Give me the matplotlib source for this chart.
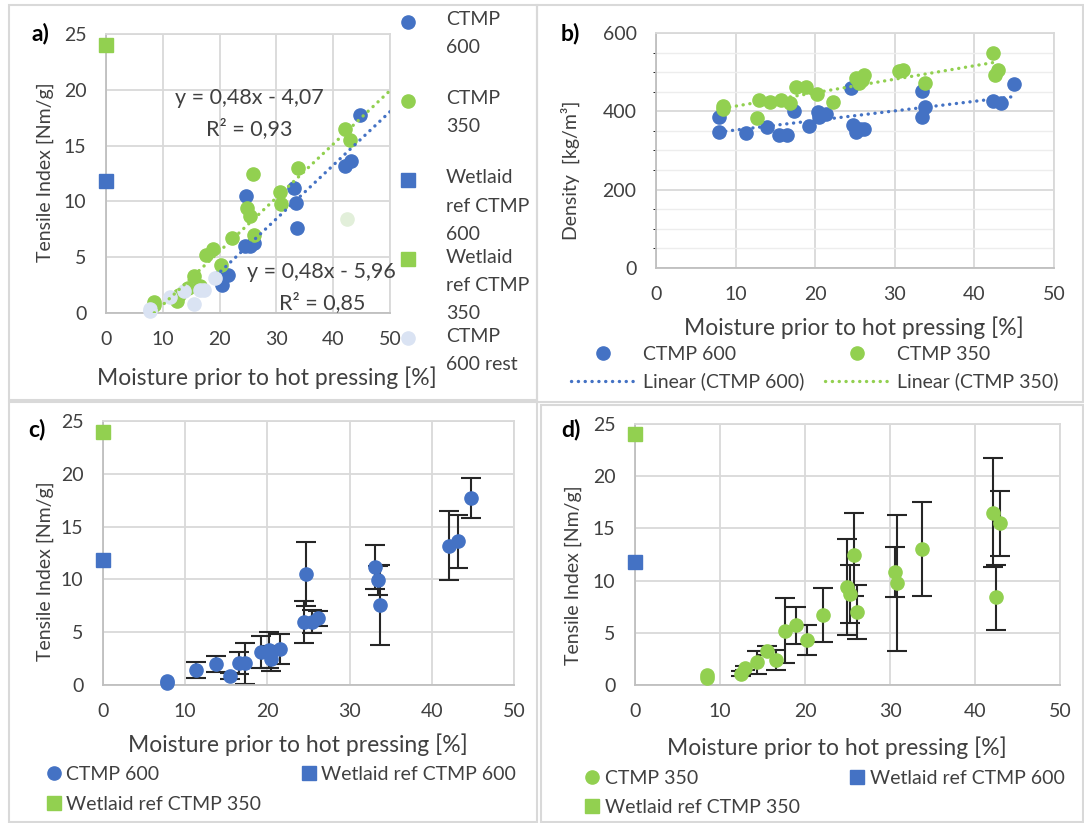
import numpy as np
import matplotlib
matplotlib.use("Agg")
import matplotlib.pyplot as plt
from matplotlib.patches import Rectangle
from matplotlib.ticker import MultipleLocator
from matplotlib.legend_handler import HandlerLine2D

plt.rcParams['font.family'] = ['Lato', 'DejaVu Sans']
FS_TICK = 14
FS_LEG = 14
FS_XLAB = 16.5
FS_YLAB = 14
FS_EQ = 15.5

BLUE = '#4472C4'
GREEN = '#92D050'
LIGHT_BLUE = '#DAE3F3'
FAINT_GREEN = '#E2EFDA'
GRID = '#D9D9D9'
TXT = '#404040'
ERR = '#262626'

# tensile index, CTMP 600 (panels a and c)
x600 = [7.8, 7.8, 11.3, 13.8, 15.5, 16.6, 17.3, 19.2, 20.2, 20.4, 21.5,
        24.5, 24.7, 25.4, 26.1, 33.1, 33.4, 33.7, 42.1, 43.2, 44.8]
y600 = [0.4, 0.2, 1.45, 2.0, 0.85, 2.05, 2.05, 3.1, 3.35, 2.5, 3.4,
        6.0, 10.5, 6.0, 6.3, 11.2, 9.9, 7.6, 13.2, 13.6, 17.7]
err600 = [0.0, 0.0, 0.75, 0.75, 0.3, 1.05, 1.95, 1.5, 1.7, 1.2, 1.4,
          2.0, 3.0, 1.1, 0.7, 2.1, 1.4, 3.8, 3.25, 2.5, 1.9]
n_rest600 = 8   # first points = "CTMP 600 rest" in a)

# tensile index, CTMP 350 (panels a and d)
x350 = [8.5, 8.5, 12.5, 12.9, 14.4, 15.5, 16.6, 17.6, 18.9, 20.2, 22.1,
        24.9, 25.3, 25.8, 26.1, 30.6, 30.8, 33.8, 42.1, 42.5, 42.9]
y350 = [0.7, 1.0, 1.1, 1.6, 2.2, 3.3, 2.4, 5.2, 5.7, 4.3, 6.7,
        9.4, 8.7, 12.5, 7.0, 10.8, 9.8, 13.0, 16.5, 8.4, 15.5]
err350 = [0.0, 0.0, 0.2, 0.2, 1.1, 0.4, 1.0, 3.1, 1.75, 1.45, 2.6,
          4.6, 2.8, 4.0, 2.55, 2.4, 6.5, 4.5, 5.2, 3.1, 3.1]
faded350 = 19   # point left out of the trend in a)

# wetlaid references at 0 % moisture
ref600 = 11.8
ref350 = 24.0

# trend lines printed in a): slope, intercept, R2
fit350 = (0.48, -4.07, 0.93)
fit600 = (0.48, -5.96, 0.85)

# density (panel b)
xd600 = [7.9, 7.9, 11.3, 13.9, 15.4, 16.4, 17.3, 19.2, 20.3, 20.5, 21.4,
         24.5, 24.8, 25.1, 25.6, 26.1, 33.4, 33.4, 33.8, 42.3, 43.4, 45.0]
d600 = [385, 348, 344, 361, 339, 339, 401, 363, 399, 386, 392,
        460, 365, 348, 356, 356, 453, 385, 410, 426, 420, 469]
xd350 = [8.4, 8.4, 12.7, 13.0, 14.3, 15.7, 16.8, 17.6, 18.8, 20.2, 22.2,
         25.1, 25.5, 25.9, 26.1, 30.5, 31.0, 33.8, 42.3, 42.6, 43.0]
d350 = [414, 405, 382, 429, 425, 429, 420, 461, 461, 444, 425,
        484, 472, 480, 493, 503, 506, 473, 550, 493, 506]

W, H = 1084, 823
fig = plt.figure(figsize=(W / 100, H / 100), dpi=100)


def box(l, t, r, b):
    return [l / W, 1 - b / H, (r - l) / W, (b - t) / H]


def fx(px):
    return px / W


def fy(py):
    return 1 - py / H


def style(ax, ymax, ystep):
    ax.set_xlim(0, 50)
    ax.set_ylim(0, ymax)
    ax.xaxis.set_major_locator(MultipleLocator(10))
    ax.yaxis.set_major_locator(MultipleLocator(ystep))
    ax.grid(True, color=GRID, lw=1.3)
    ax.set_axisbelow(True)
    ax.tick_params(length=0, labelsize=FS_TICK, colors=TXT)
    ax.tick_params(axis='x', pad=13)
    ax.tick_params(axis='y', pad=14)
    for s in ax.spines.values():
        s.set_color(GRID)
        s.set_linewidth(1.3)
    ax.spines['left'].set_color('#BFBFBF')
    ax.spines['bottom'].set_color('#BFBFBF')


def labels(ax, ylab, xy_x, xy_y):
    ax.set_xlabel('Moisture prior to hot pressing [%]', fontsize=FS_XLAB, color=TXT, va='center')
    ax.set_ylabel(ylab, fontsize=FS_YLAB, color=TXT, va='center')
    ax.xaxis.set_label_coords(*xy_x)
    ax.yaxis.set_label_coords(*xy_y)


def errbars(ax, xs, ys, es):
    # points without a spread get no bar
    xs, ys, es = map(np.asarray, (xs, ys, es))
    m = es > 0
    ax.errorbar(xs[m], ys[m], yerr=es[m], fmt='none', ecolor=ERR, elinewidth=1.5,
                capsize=7, capthick=1.5, zorder=2)


def legend(handles, names, left, y, loc='center left', linespacing=None, **kw):
    leg = fig.legend(handles, names, loc=loc, bbox_to_anchor=(fx(left), fy(y)),
                     frameon=False, fontsize=FS_LEG, labelcolor=TXT, borderaxespad=0,
                     borderpad=0, **kw)
    if linespacing:
        for t in leg.get_texts():
            t.set_linespacing(linespacing)
    return leg


class TopKey(HandlerLine2D):
    # legend key lifted to the first line of a multi-line label (Excel style)
    def __init__(self, shift, **kw):
        super().__init__(**kw)
        self.shift = shift

    def create_artists(self, *args, **kw):
        arts = super().create_artists(*args, **kw)
        for a in arts:
            a.set_ydata(np.asarray(a.get_ydata(), float) + self.shift)
        return arts


dot = dict(marker='o', ms=9.5, ls='none', clip_on=False, zorder=3)
sq = dict(marker='s', ms=10, ls='none', clip_on=False, zorder=3)
trend = dict(ls=(0, (0.05, 2.0)), lw=2.4, dash_capstyle='round', zorder=4)

# ---------- a)
ax = fig.add_axes(box(106, 34, 390, 313))
style(ax, 25, 5)
xa6 = np.array(x600[n_rest600:])
ya6 = np.array(y600[n_rest600:])
keep = [i for i in range(len(x350)) if i != faded350]
xa3 = np.array(x350)[keep]
ya3 = np.array(y350)[keep]
h1, = ax.plot(xa6, ya6, color=BLUE, **dot)
h2, = ax.plot(xa3, ya3, color=GREEN, **dot)
h3, = ax.plot([0], [ref600], color=BLUE, **sq)
h4, = ax.plot([0], [ref350], color=GREEN, **sq)
h5, = ax.plot(x600[:n_rest600], y600[:n_rest600], color=LIGHT_BLUE, **dot)
ax.plot([x350[faded350]], [y350[faded350]], color=FAINT_GREEN, **dot)
for xs, f, c in [(xa3, fit350, GREEN), (xa6, fit600, BLUE)]:
    xx = np.array([xs.min(), 50])
    ax.plot(xx, f[0] * xx + f[1], color=c, **trend)
for xpos, ypos, f in [(25.3, 17.9, fit350), (38.0, 2.3, fit600)]:
    eq = 'y = {:.2f}x - {:.2f}\nR² = {:.2f}'.format(f[0], -f[1], f[2]).replace('.', ',')
    ax.text(xpos, ypos, eq, fontsize=FS_EQ, color=TXT, ha='center', va='center',
            multialignment='center', linespacing=1.6)
labels(ax, 'Tensile Index [Nm/g]', (0.565, -0.233), (-0.215, 0.505))

names_a = ['CTMP\n600\n', 'CTMP\n350\n', 'Wetlaid\nref CTMP\n600',
           'Wetlaid\nref CTMP\n350', 'CTMP\n600 rest\n']
legend([h1, h2, h3, h4, h5], names_a, 398, 11, loc='upper left', linespacing=1.8,
       handlelength=1.0, handletextpad=1.45, labelspacing=0.3,
       handler_map={h: TopKey(19) for h in [h1, h2, h3, h4, h5]})

# ---------- b)
ax = fig.add_axes(box(656, 33, 1054, 268))
style(ax, 600, 200)
ax.yaxis.set_minor_locator(MultipleLocator(50))
ax.grid(True, which='minor', axis='y', color='#EDEDED', lw=1.0)
b1, = ax.plot(xd600, d600, color=BLUE, **dot)
b2, = ax.plot(xd350, d350, color=GREEN, **dot)
lines = []
for xs, ys, c in [(xd600, d600, BLUE), (xd350, d350, GREEN)]:
    k, m = np.polyfit(xs, ys, 1)
    xx = np.array([min(xs), max(xs)])
    ln, = ax.plot(xx, k * xx + m, color=c, **trend)
    lines.append(ln)
labels(ax, 'Density  [kg/m³]', (0.497, -0.255), (-0.214, 0.417))
bkw = dict(handlelength=3.25, handletextpad=0.46, labelspacing=0.5)
legend([b1, lines[0]], ['CTMP 600', 'Linear (CTMP 600)'], 571, 368, **bkw)
legend([b2, lines[1]], ['CTMP 350', 'Linear (CTMP 350)'], 825, 368, **bkw)

# ---------- c)
ax = fig.add_axes(box(103, 421, 514, 685))
style(ax, 25, 5)
errbars(ax, x600, y600, err600)
c1, = ax.plot(x600, y600, color=BLUE, **dot)
c2, = ax.plot([0], [ref600], color=BLUE, **sq)
c3, = ax.plot([0], [ref350], color=GREEN, **sq)
labels(ax, 'Tensile Index [Nm/g]', (0.473, -0.227), (-0.140, 0.43))
ckw = dict(handlelength=0.8, handletextpad=0.22, labelspacing=0.65)
legend([c1, c3], ['CTMP 600', 'Wetlaid ref CTMP 350'], 46, 789.5, **ckw)
legend([c2], ['Wetlaid ref CTMP 600'], 301, 774, **ckw)

# ---------- d)
ax = fig.add_axes(box(635, 424, 1060, 685))
style(ax, 25, 5)
errbars(ax, x350, y350, err350)
d1, = ax.plot(x350, y350, color=GREEN, **dot)
d2, = ax.plot([0], [ref600], color=BLUE, **sq)
d3, = ax.plot([0], [ref350], color=GREEN, **sq)
labels(ax, 'Tensile Index [Nm/g]', (0.475, -0.241), (-0.146, 0.421))
dkw = dict(handlelength=0.8, handletextpad=0.3, labelspacing=0.6)
legend([d1, d3], ['CTMP 350', 'Wetlaid ref CTMP 350'], 584, 793, **dkw)
legend([d2], ['Wetlaid ref CTMP 600'], 849, 778, **dkw)

# panel letters and frames
for t, px, py in [('a)', 40, 33), ('b)', 570, 33), ('c)', 37, 430), ('d)', 571, 430)]:
    fig.text(fx(px), fy(py), t, fontsize=FS_XLAB, fontweight='bold', ha='center', va='center')
for l, t, r, b in [(9, 5, 537, 400), (537, 5, 1083, 402), (9, 402, 537, 822), (541, 405, 1083, 822)]:
    fig.add_artist(Rectangle((fx(l), fy(b)), (r - l) / W, (b - t) / H,
                             transform=fig.transFigure, fill=False, ec=GRID, lw=1.5))

fig.savefig('out.png', dpi=100)
